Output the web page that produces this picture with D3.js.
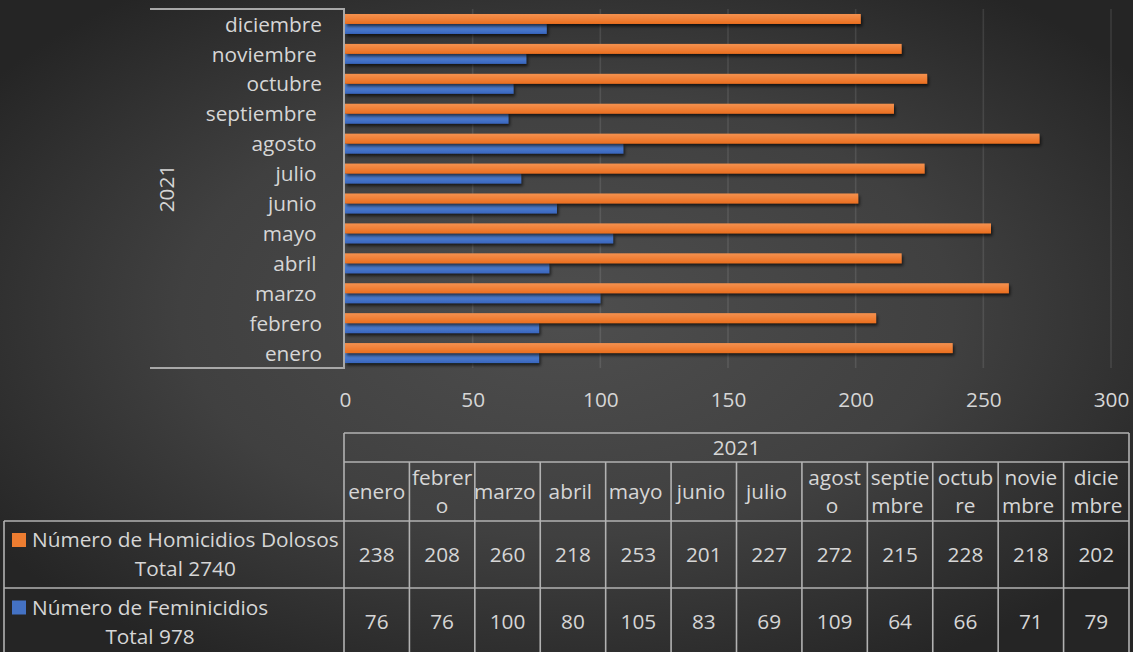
<!DOCTYPE html>
<html><head><meta charset="utf-8">
<script src="https://cdn.jsdelivr.net/npm/d3@7"></script>
<style>
html,body{margin:0;padding:0;background:#2a2a2a;}
svg{display:block;font-family:"Open Sans",sans-serif;}
text{fill:#d6d6d6;white-space:pre;}
</style></head><body>
<svg id="chart" width="1133" height="652"></svg>
<script>
// ---------- data ----------
const year = "2021";
const months = ["enero","febrero","marzo ","abril ","mayo ","junio ","julio ","agosto ","septiembre ","octubre","noviembre ","diciembre"];
const headerLines = [["enero"],["febrer","o"],["marzo "],["abril "],["mayo "],["junio "],["julio "],["agost","o "],["septie","mbre "],["octub","re"],["novie","mbre "],["dicie","mbre"]];
const seriesNames = ["Número de Homicidios Dolosos","Número de Feminicidios"];
const homicidios = [238,208,260,218,253,201,227,272,215,228,218,202];
const feminicidios = [76,76,100,80,105,83,69,109,64,66,71,79];
const xTicks = [0,50,100,150,200,250,300];

// ---------- setup ----------
const W = 1133, H = 652, FS = 20.8;
const svg = d3.select("#chart");
const defs = svg.append("defs");

const bg = defs.append("radialGradient").attr("id","bg")
  .attr("cx","50%").attr("cy","48%").attr("r","62%");
bg.append("stop").attr("offset","0%").attr("stop-color","#4e4e4e");
bg.append("stop").attr("offset","55%").attr("stop-color","#404040");
bg.append("stop").attr("offset","100%").attr("stop-color","#252525");

const colors = [
  {top:"#f4914f", bot:"#eb6f20", flat:"#ed7d31"},
  {top:"#5b8bd9", bot:"#3966be", flat:"#4472c4"}
];
colors.forEach((c,i)=>{
  const g = defs.append("linearGradient").attr("id","g"+i).attr("x1",0).attr("y1",0).attr("x2",0).attr("y2",1);
  g.append("stop").attr("offset","0%").attr("stop-color",c.top);
  g.append("stop").attr("offset","100%").attr("stop-color",c.bot);
});
const f = defs.append("filter").attr("id","shadow").attr("x","-5%").attr("y","-50%").attr("width","115%").attr("height","250%");
f.append("feDropShadow").attr("dx",1.5).attr("dy",2.5).attr("stdDeviation",1.8)
  .attr("flood-color","#000").attr("flood-opacity",0.65);

svg.append("rect").attr("width",W).attr("height",H).attr("fill","url(#bg)");

const series = seriesNames.map((n,i)=>({name:n, values:[homicidios,feminicidios][i], idx:i}));

// ---------- scales ----------
const x = d3.scaleLinear().domain([0,300]).range([345,1111]);
const y = d3.scaleBand().domain(months.slice().reverse()).range([9,368]).paddingInner(1/3).paddingOuter(1/6);
const ySub = d3.scaleBand().domain([0,1]).range([0,y.bandwidth()]);

// gridlines
svg.append("g").selectAll("line").data(xTicks.filter(t=>t>0)).join("line")
  .attr("x1",d=>x(d)).attr("x2",d=>x(d)).attr("y1",9).attr("y2",368)
  .attr("stroke","#ffffff").attr("stroke-opacity",0.1).attr("stroke-width",1.6);

// bars: draw feminicidios first, then homicidios
const barG = svg.append("g");
[1,0].forEach(si=>{
  const s = series[si];
  barG.append("g").attr("filter","url(#shadow)").selectAll("rect")
    .data(months.map((m,i)=>({m, v:s.values[i]}))).join("rect")
    .attr("x",x(0)).attr("y",d=>y(d.m)+ySub(si))
    .attr("width",d=>x(d.v)-x(0)).attr("height",ySub.bandwidth())
    .attr("fill","url(#g"+si+")");
});

// x axis
const xAxis = svg.append("g").attr("transform","translate(0,368)")
  .call(d3.axisBottom(x).tickValues(xTicks).tickSize(0).tickPadding(24));
xAxis.select(".domain").remove();
xAxis.selectAll("text").attr("font-size",FS).attr("font-family","Open Sans").style("fill","#d6d6d6");

// category axis
const yAxis = svg.append("g").attr("transform","translate(344,0)")
  .call(d3.axisLeft(y).tickSize(0).tickPadding(22));
yAxis.select(".domain").remove();
yAxis.selectAll("text").attr("font-size",FS).attr("font-family","Open Sans").attr("dy","0.37em").style("fill","#d6d6d6");

const axC = "#a8a8a8";
svg.append("line").attr("x1",344).attr("x2",344).attr("y1",8).attr("y2",369).attr("stroke",axC).attr("stroke-width",2);
svg.append("line").attr("x1",150).attr("x2",345).attr("y1",9).attr("y2",9).attr("stroke",axC).attr("stroke-width",2);
svg.append("line").attr("x1",150).attr("x2",345).attr("y1",368).attr("y2",368).attr("stroke",axC).attr("stroke-width",2);

svg.append("text").attr("transform","translate(166,188.5) rotate(-90)")
  .attr("text-anchor","middle").attr("dy","0.36em").attr("font-size",FS).text(year);

// ---------- data table ----------
const col = d3.scaleBand().domain(months).range([344,1129]);
const rows = {top:433, yr:462, hdr:521, r1:588, r2:656};
const tc = "#b2b2b2", tw = 1.6;
const tbl = svg.append("g");
function hl(x1,x2,yy){tbl.append("line").attr("x1",x1).attr("x2",x2).attr("y1",yy).attr("y2",yy).attr("stroke",tc).attr("stroke-width",tw);}
function vl(xx,y1,y2){tbl.append("line").attr("x1",xx).attr("x2",xx).attr("y1",y1).attr("y2",y2).attr("stroke",tc).attr("stroke-width",tw);}
hl(344,1129,rows.top); hl(344,1129,rows.yr); hl(4,1129,rows.hdr); hl(4,1129,rows.r1); hl(4,1129,rows.r2);
vl(4,rows.hdr,rows.r2); vl(344,rows.top,rows.r2); vl(1129,rows.top,rows.r2);
tbl.selectAll("line.c").data(months.slice(1)).join("line").attr("class","c")
  .attr("x1",d=>col(d)).attr("x2",d=>col(d)).attr("y1",rows.yr).attr("y2",rows.r2)
  .attr("stroke",tc).attr("stroke-width",tw);

tbl.append("text").attr("x",(344+1129)/2).attr("y",(rows.top+rows.yr)/2).attr("dy","0.36em")
  .attr("text-anchor","middle").attr("font-size",FS).text(year);

const hdrMid = (rows.yr+rows.hdr)/2, LH = 28;
months.forEach((m,i)=>{
  const lines = headerLines[i];
  lines.forEach((ln,j)=>{
    tbl.append("text").attr("x",col(m)+col.bandwidth()/2)
      .attr("y",hdrMid + (j-(lines.length-1)/2)*LH).attr("dy","0.36em")
      .attr("text-anchor","middle").attr("font-size",FS).text(ln);
  });
});

const rowSpans = [[rows.hdr,rows.r1],[rows.r1,rows.r2]];
series.forEach((s,si)=>{
  const [a,b] = rowSpans[si]; const mid=(a+b)/2;
  tbl.selectAll(null).data(s.values).join("text")
    .attr("x",(d,i)=>col(months[i])+col.bandwidth()/2).attr("y",mid).attr("dy","0.36em")
    .attr("text-anchor","middle").attr("font-size",FS).text(d=>d);
  // legend cell
  const lines = [s.name, "Total " + d3.sum(s.values)];
  const tmp = lines.map(t=>{
    const el = tbl.append("text").attr("font-size",FS).attr("x",0).attr("y",-100).text(t);
    const w = el.node().getComputedTextLength(); el.remove(); return w;
  });
  const cx = 32 + d3.max(tmp)/2;
  lines.forEach((t,j)=>{
    tbl.append("text").attr("x",cx).attr("y",mid + (j-0.5)*29).attr("dy","0.36em")
      .attr("text-anchor","middle").attr("font-size",FS).text(t);
  });
  tbl.append("rect").attr("x",12).attr("y",mid-0.5*29-7).attr("width",14).attr("height",14)
    .attr("fill",colors[si].flat);
});
</script>
</body></html>
